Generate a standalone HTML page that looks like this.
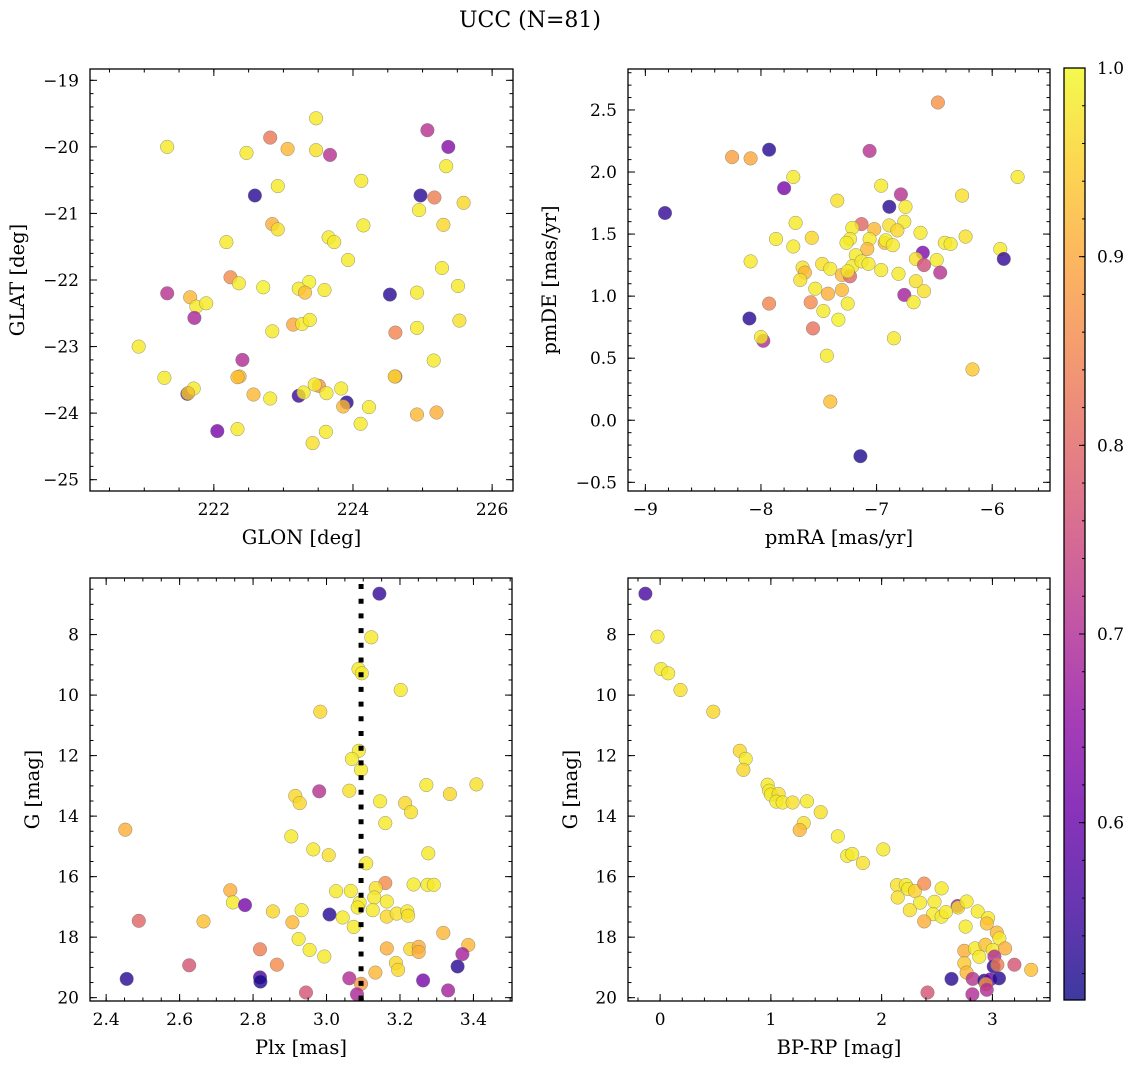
<!DOCTYPE html>
<html><head><meta charset="utf-8">
<style>
html,body{margin:0;padding:0;background:#fff;}
svg{display:block;font-family:"DejaVu Serif","Liberation Serif",serif;}
</style></head>
<body>
<svg id="fig" width="1136" height="1068" viewBox="0 0 1136 1068" xmlns="http://www.w3.org/2000/svg">
<text x="530" y="27" font-size="22" text-anchor="middle">UCC (N=81)</text>
</svg>
<script>
// ---------- data ----------
const p1_glon=[223.47,221.33,222.81,225.07,225.37,222.47,223.06,223.47,223.67,225.34,224.12,222.92,222.59,224.97,225.17,225.59,224.95,222.84,222.92,224.15,225.30,222.18,223.65,223.73,223.93,225.28,222.24,222.36,222.71,223.37,223.22,223.31,223.59,224.53,224.92,225.51,221.33,221.66,221.75,221.89,221.72,223.14,223.27,223.38,222.84,224.61,224.92,225.53,220.92,222.41,225.16,221.29,222.37,222.34,224.61,224.60,221.62,221.71,221.63,222.57,222.81,223.22,223.29,223.51,223.45,223.62,223.83,223.91,223.86,224.23,224.92,225.20,222.05,222.34,224.11,223.61,223.42];
const p1_glat=[-19.57,-20.00,-19.86,-19.75,-20.00,-20.09,-20.03,-20.05,-20.12,-20.29,-20.51,-20.59,-20.73,-20.73,-20.76,-20.84,-20.95,-21.16,-21.24,-21.18,-21.17,-21.43,-21.36,-21.43,-21.70,-21.82,-21.96,-22.05,-22.11,-22.03,-22.13,-22.19,-22.15,-22.22,-22.19,-22.09,-22.20,-22.26,-22.40,-22.35,-22.57,-22.67,-22.66,-22.60,-22.77,-22.79,-22.72,-22.61,-23.00,-23.20,-23.21,-23.47,-23.45,-23.46,-23.45,-23.45,-23.71,-23.63,-23.70,-23.72,-23.78,-23.74,-23.69,-23.59,-23.57,-23.70,-23.63,-23.84,-23.90,-23.91,-24.02,-23.99,-24.27,-24.24,-24.16,-24.28,-24.45];
const p1_prob=[0.98,0.98,0.83,0.71,0.64,0.98,0.92,0.97,0.71,0.98,0.98,0.98,0.53,0.53,0.84,0.96,0.98,0.91,0.97,0.98,0.96,0.98,0.98,0.98,0.98,0.98,0.86,0.98,0.99,0.99,0.98,0.93,0.98,0.53,0.98,0.98,0.71,0.92,0.98,0.98,0.69,0.90,0.98,0.98,0.98,0.85,0.98,0.97,0.98,0.70,0.98,0.98,0.92,0.93,0.83,0.96,0.53,0.98,0.94,0.92,0.98,0.55,0.98,0.87,0.98,0.98,0.98,0.53,0.92,0.98,0.92,0.91,0.62,0.98,0.98,0.98,0.97];

const p2_pmra=[-6.47,-8.25,-8.09,-7.93,-7.06,-7.72,-7.80,-5.78,-6.96,-6.79,-6.26,-7.34,-8.83,-6.89,-6.75,-7.70,-6.76,-7.13,-7.21,-7.02,-6.89,-6.82,-6.62,-6.23,-7.87,-7.56,-7.23,-7.06,-7.72,-7.26,-6.93,-6.92,-6.86,-6.41,-6.36,-7.08,-5.93,-7.18,-6.60,-5.90,-8.09,-7.64,-7.62,-7.47,-7.40,-7.21,-7.13,-7.07,-6.96,-6.66,-6.59,-6.48,-6.45,-7.30,-7.23,-7.25,-7.66,-6.81,-6.66,-7.53,-7.42,-7.30,-6.59,-6.76,-6.68,-7.93,-7.57,-7.25,-7.46,-8.10,-7.33,-7.55,-6.85,-7.98,-8.00,-7.43,-6.17,-7.40,-7.14];
const p2_pmde=[2.56,2.12,2.11,2.18,2.17,1.96,1.87,1.96,1.89,1.82,1.81,1.77,1.67,1.72,1.72,1.59,1.60,1.58,1.55,1.54,1.57,1.53,1.51,1.48,1.46,1.47,1.46,1.46,1.40,1.43,1.43,1.45,1.41,1.43,1.42,1.38,1.38,1.33,1.35,1.30,1.28,1.23,1.19,1.26,1.22,1.24,1.28,1.26,1.21,1.30,1.25,1.29,1.19,1.17,1.16,1.20,1.13,1.18,1.12,1.06,1.02,1.05,1.04,1.01,0.95,0.94,0.95,0.94,0.88,0.82,0.81,0.74,0.66,0.64,0.67,0.52,0.41,0.15,-0.29];
const p2_prob=[0.87,0.89,0.90,0.53,0.71,0.98,0.62,0.98,0.98,0.71,0.97,0.97,0.54,0.53,0.98,0.98,0.98,0.80,0.98,0.92,0.97,0.96,0.98,0.97,0.98,0.96,0.98,0.98,0.98,0.98,0.92,0.99,0.98,0.98,0.98,0.92,0.98,0.98,0.63,0.54,0.98,0.97,0.92,0.97,0.98,0.98,0.98,0.98,0.98,0.97,0.76,0.98,0.71,0.92,0.80,0.98,0.97,0.98,0.97,0.98,0.91,0.92,0.97,0.68,0.98,0.85,0.86,0.98,0.98,0.53,0.99,0.82,0.98,0.70,0.98,0.98,0.94,0.93,0.52];

const p3_plx=[3.144,3.122,3.087,3.096,3.202,2.983,3.088,3.069,3.094,2.980,3.062,2.915,2.927,3.272,3.336,3.408,3.146,3.214,3.230,3.160,2.452,2.904,2.964,3.006,3.277,3.108,3.160,3.134,3.237,3.275,3.292,2.738,3.026,3.066,3.130,3.164,3.090,2.745,2.778,2.854,2.932,3.008,3.085,3.126,3.164,3.191,3.220,3.222,3.044,2.489,2.665,2.907,3.074,3.318,2.924,2.819,2.954,3.164,3.228,3.251,3.251,3.386,3.370,2.994,3.189,3.195,2.865,2.626,3.357,3.133,2.456,2.819,2.820,3.062,3.263,3.094,2.944,3.083,3.331];
const p3_g=[6.65,8.09,9.14,9.28,9.83,10.55,11.84,12.11,12.47,13.18,13.16,13.33,13.57,12.97,13.27,12.95,13.51,13.57,13.87,14.23,14.45,14.67,15.10,15.29,15.23,15.56,16.21,16.38,16.26,16.27,16.27,16.45,16.48,16.47,16.69,16.82,16.86,16.85,16.94,17.15,17.11,17.25,17.02,17.11,17.32,17.22,17.15,17.29,17.35,17.46,17.48,17.51,17.66,17.86,18.06,18.40,18.42,18.37,18.39,18.32,18.49,18.26,18.56,18.64,18.85,19.08,18.91,18.93,18.97,19.17,19.38,19.33,19.47,19.36,19.43,19.54,19.83,19.89,19.76];
const p3_prob=[0.54,0.98,0.98,0.98,0.98,0.96,0.98,0.98,0.98,0.71,0.97,0.96,0.96,0.98,0.96,0.97,0.98,0.96,0.97,0.98,0.91,0.98,0.98,0.97,0.98,0.98,0.86,0.97,0.98,0.98,0.98,0.91,0.98,0.98,0.98,0.98,0.98,0.98,0.62,0.96,0.98,0.53,0.98,0.98,0.96,0.97,0.98,0.97,0.98,0.80,0.93,0.92,0.98,0.92,0.98,0.84,0.98,0.91,0.96,0.91,0.91,0.92,0.68,0.98,0.96,0.96,0.86,0.77,0.53,0.92,0.53,0.56,0.52,0.70,0.62,0.88,0.77,0.69,0.68];

const p4_bprp=[-0.133,-0.024,0.009,0.073,0.184,0.480,0.719,0.773,0.752,0.970,0.985,1.000,1.070,1.050,1.106,1.196,1.326,1.450,1.296,1.260,1.604,1.689,1.734,1.831,2.015,2.139,2.218,2.240,2.300,2.384,2.541,2.145,2.347,2.477,2.254,2.686,2.690,2.767,2.465,2.541,2.580,2.867,2.384,2.961,2.949,2.758,3.040,3.063,2.746,2.843,2.937,3.003,3.115,2.882,3.018,2.746,3.012,3.045,3.199,3.350,2.767,2.631,2.822,2.927,2.979,3.060,2.940,2.949,2.414,2.819];
const p4_g=[6.65,8.07,9.14,9.28,9.83,10.55,11.84,12.11,12.47,12.96,13.16,13.29,13.27,13.52,13.55,13.55,13.51,13.87,14.23,14.46,14.67,15.31,15.25,15.55,15.10,16.28,16.28,16.41,16.47,16.23,16.39,16.69,16.86,16.83,17.11,16.97,17.02,16.82,17.24,17.32,17.17,17.15,17.48,17.37,17.55,17.65,17.85,18.04,18.45,18.37,18.25,18.42,18.37,18.65,18.64,18.86,18.97,18.91,18.91,19.08,19.17,19.38,19.38,19.44,19.40,19.36,19.55,19.74,19.83,19.89];
const p4_prob=[0.56,0.98,0.98,0.98,0.97,0.96,0.96,0.98,0.96,0.98,0.98,0.98,0.97,0.98,0.98,0.97,0.98,0.97,0.97,0.92,0.98,0.98,0.98,0.97,0.98,0.97,0.98,0.98,0.95,0.86,0.98,0.97,0.98,0.98,0.97,0.66,0.97,0.98,0.98,0.98,0.98,0.98,0.91,0.98,0.93,0.98,0.92,0.98,0.91,0.98,0.93,0.98,0.91,0.98,0.70,0.94,0.53,0.84,0.77,0.93,0.92,0.53,0.71,0.53,0.60,0.53,0.88,0.70,0.77,0.70];

const plxLine=[3.094];
const cbTicks=[0.6,0.7,0.8,0.9,1.0];
const vmin=0.506, vmax=1.0;

// ---------- helpers ----------
const NS="http://www.w3.org/2000/svg";
const svg=document.getElementById('fig');
function mk(tag,attrs,parent){const e=document.createElementNS(NS,tag);for(const k in attrs)e.setAttribute(k,attrs[k]);(parent||svg).appendChild(e);return e;}
const stops=[[0,13,8,135],[0.1,65,4,157],[0.2,106,0,168],[0.3,143,13,164],[0.4,177,42,144],[0.5,204,71,120],[0.6,225,100,98],[0.7,242,132,75],[0.8,252,166,54],[0.9,252,206,37],[1,240,249,33]];
function plasma(t){t=Math.max(0,Math.min(1,t));for(let i=1;i<stops.length;i++){if(t<=stops[i][0]){const a=stops[i-1],b=stops[i],f=(t-a[0])/(b[0]-a[0]);return `rgb(${Math.round(a[1]+f*(b[1]-a[1]))},${Math.round(a[2]+f*(b[2]-a[2]))},${Math.round(a[3]+f*(b[3]-a[3]))})`;}}return 'rgb(240,249,33)';}
function fmt(v,dec){const s=Math.abs(v).toFixed(dec);return (v<-1e-9?'\u2212':'')+s;}

function panel(cfg){
  const g=mk('g',{});
  
  
  const {L,T,R,B}=cfg;
  const sx=v=>L+(v-cfg.x0)/(cfg.x1-cfg.x0)*(R-L);
  const sy=cfg.invert? (v=>T+(v-cfg.y0)/(cfg.y1-cfg.y0)*(B-T)) : (v=>B-(v-cfg.y0)/(cfg.y1-cfg.y0)*(B-T));
  const pg=mk('g',{},g);
  
  
  for(let i=0;i<cfg.xs.length;i++){
    const c=mk('circle',{cx:sx(cfg.xs[i]).toFixed(1),cy:sy(cfg.ys[i]).toFixed(1),r:6.8,fill:plasma((cfg.cs[i]-vmin)/(vmax-vmin)),'fill-opacity':0.8,stroke:'#777','stroke-width':0.5,'stroke-opacity':0.8},pg);
    
    
  }
  if(cfg.vline){cfg.vline.forEach(v=>{const l=mk('line',{x1:sx(v),x2:sx(v),y1:T+6,y2:B,stroke:'#000','stroke-width':5,'stroke-dasharray':'5 9.7'},g);
    
    });}
  const tg=mk('g',{stroke:'#000','stroke-width':1},g);
  const eps=1e-9;
  function ticks(a0,a1,step){const out=[];const lo=Math.min(a0,a1),hi=Math.max(a0,a1);let s=Math.ceil(lo/step-eps)*step;for(let v=s;v<=hi+eps;v+=step)out.push(+v.toFixed(6));return out;}
  ticks(cfg.x0,cfg.x1,cfg.xmin).forEach(v=>{const x=sx(v);mk('line',{x1:x,x2:x,y1:B,y2:B-3.5},tg);mk('line',{x1:x,x2:x,y1:T,y2:T+3.5},tg);});
  ticks(cfg.y0,cfg.y1,cfg.ymin).forEach(v=>{const y=sy(v);mk('line',{x1:L,x2:L+3.5,y1:y,y2:y},tg);mk('line',{x1:R,x2:R-3.5,y1:y,y2:y},tg);});
  ticks(cfg.x0,cfg.x1,cfg.xmaj).forEach(v=>{const x=sx(v);mk('line',{x1:x,x2:x,y1:B,y2:B-7},tg);mk('line',{x1:x,x2:x,y1:T,y2:T+7},tg);
    const t=mk('text',{x:x,y:B+24,'font-size':17,'text-anchor':'middle'},g);t.textContent=fmt(v,cfg.xdec);
    
    });
  ticks(cfg.y0,cfg.y1,cfg.ymaj).forEach(v=>{const y=sy(v);mk('line',{x1:L,x2:L+7,y1:y,y2:y},tg);mk('line',{x1:R,x2:R-7,y1:y,y2:y},tg);
    const t=mk('text',{x:L-11,y:y+6,'font-size':17,'text-anchor':'end'},g);t.textContent=fmt(v,cfg.ydec);
    
    });
  const fr=mk('rect',{x:L,y:T,width:R-L,height:B-T,fill:'none',stroke:'#000','stroke-width':1.3},g);
  
  
  const xl=mk('text',{x:(L+R)/2,y:B+53,'font-size':19.5,'text-anchor':'middle'},g);xl.textContent=cfg.xlabel;
  
  
  const yl=mk('text',{x:0,y:0,'font-size':19.5,'text-anchor':'middle',transform:`translate(${cfg.ylx},${(T+B)/2}) rotate(-90)`},g);yl.textContent=cfg.ylabel;
  
  
}

panel({name:'glon-glat-panel',L:90,T:69,R:513,B:491,x0:220.22,x1:226.30,y0:-25.17,y1:-18.83,xmaj:2,xmin:0.5,ymaj:1,ymin:0.2,xdec:0,ydec:0,xs:p1_glon,ys:p1_glat,cs:p1_prob,xlabel:'GLON [deg]',ylabel:'GLAT [deg]',ylx:24});
panel({name:'proper-motion-panel',L:628,T:69,R:1050,B:491,x0:-9.15,x1:-5.50,y0:-0.57,y1:2.83,xmaj:1,xmin:0.2,ymaj:0.5,ymin:0.1,xdec:0,ydec:1,xs:p2_pmra,ys:p2_pmde,cs:p2_prob,xlabel:'pmRA [mas/yr]',ylabel:'pmDE [mas/yr]',ylx:556});
panel({name:'parallax-magnitude-panel',L:90,T:578,R:512,B:1001,x0:2.356,x1:3.505,y0:6.13,y1:20.11,invert:true,xmaj:0.2,xmin:0.05,ymaj:2,ymin:0.5,xdec:1,ydec:0,xs:p3_plx,ys:p3_g,cs:p3_prob,vline:plxLine,xlabel:'Plx [mas]',ylabel:'G [mag]',ylx:39});
panel({name:'color-magnitude-panel',L:628,T:578,R:1050,B:1001,x0:-0.29,x1:3.52,y0:6.13,y1:20.11,invert:true,xmaj:1,xmin:0.2,ymaj:2,ymin:0.5,xdec:0,ydec:0,xs:p4_bprp,ys:p4_g,cs:p4_prob,xlabel:'BP-RP [mag]',ylabel:'G [mag]',ylx:577});

// ---------- colorbar ----------
(function(){
  const L=1064,R=1085,T=68,B=1000;
  const cg=mk('g',{});
  
  
  const defs=mk('defs',{},cg);
  const lg=mk('linearGradient',{id:'cbg',x1:0,y1:1,x2:0,y2:0},defs);
  for(let i=0;i<=20;i++){mk('stop',{offset:i/20,'stop-color':plasma(i/20),'stop-opacity':0.8},lg);}
  mk('rect',{x:L,y:T,width:R-L,height:B-T,fill:'url(#cbg)'},cg);
  const sy=v=>B-(v-vmin)/(vmax-vmin)*(B-T);
  for(let v=0.52;v<=1.0001;v+=0.02){const y=sy(v);mk('line',{x1:R,x2:R-3,y1:y,y2:y,stroke:'#000','stroke-width':1},cg);}
  cbTicks.forEach(v=>{const y=sy(v);mk('line',{x1:R,x2:R-6,y1:y,y2:y,stroke:'#000','stroke-width':1},cg);
    const t=mk('text',{x:R+12,y:y+6,'font-size':17},cg);t.textContent=v.toFixed(1);
    
    });
  mk('rect',{x:L,y:T,width:R-L,height:B-T,fill:'none',stroke:'#000','stroke-width':1.3},cg);
})();
</script>
</body></html>
